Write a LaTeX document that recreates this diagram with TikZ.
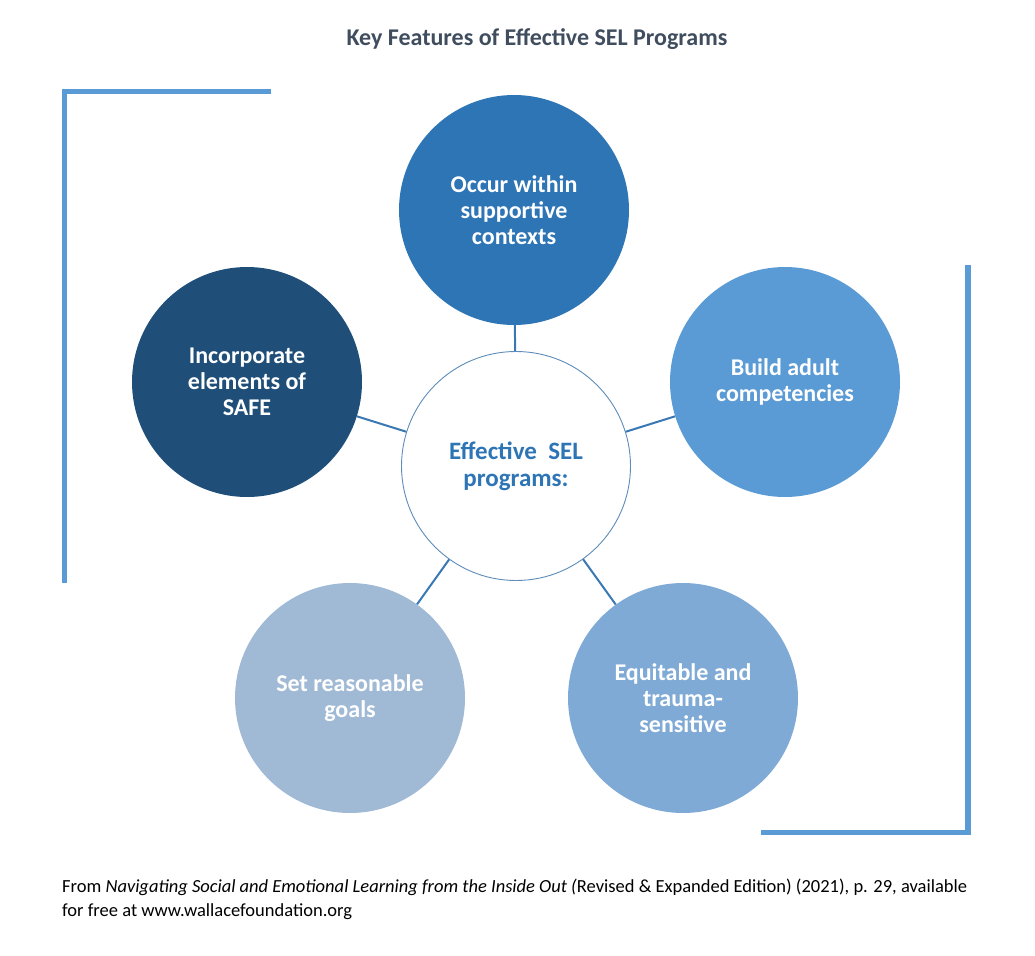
\documentclass[tikz,border=0pt]{standalone}
\usepackage{fontspec}
\setmainfont{Carlito}
\usetikzlibrary{calc}
\tikzset{%
  feature/.style={circle,minimum size=230pt,inner sep=0pt,fill=#1,text=white,
    align=center,font=\bfseries\fontsize{24}{26}\selectfont},
  feature/.default=c0,
  link/.style={draw=cl,line width=2pt},
  frame/.style={draw=cf,line width=5.5pt,line join=miter}
}
\definecolor{c0}{HTML}{2E75B6}
\definecolor{c1}{HTML}{1F4E79}
\definecolor{c2}{HTML}{5B9BD5}
\definecolor{c3}{HTML}{7FAAD6}
\definecolor{c4}{HTML}{A0BAD6}
\definecolor{cl}{HTML}{3A78B4}
\definecolor{cf}{HTML}{5B9BD5}
\definecolor{ct}{HTML}{3F4D5E}
\definecolor{cc}{HTML}{5E8DBA}

\begin{document}
\begin{tikzpicture}[x=1pt,y=-1pt]
  \useasboundingbox (0,0) rectangle (1035,955);
  \node[font=\bfseries\fontsize{24}{28}\selectfont,text=ct] (title) at (537,39) {Key Features of Effective SEL Programs};
  % corner frames
  \draw[frame] (271,91.5) -- (64.5,91.5) -- (64.5,583);
  \draw[frame] (968,265) -- (968,832.5) -- (761,832.5);
  % centre and the five features
  \node[circle,minimum size=229pt,inner sep=0pt,draw=cc,line width=0.9pt,fill=white,
    align=center,text=c0,font=\bfseries\fontsize{25}{27}\selectfont] (hub) at (516,466) {Effective~~SEL\\programs:};
  \node[feature=c0] (f0) at (514,210) {Occur within\\supportive\\contexts};
  \node[feature=c2] (f1) at (785,382) {Build adult\\competencies};
  \node[feature=c3] (f2) at (683,698) {Equitable and\\trauma-\\sensitive};
  \node[feature=c4] (f3) at (350,698) {Set reasonable\\goals};
  \node[feature=c1] (f4) at (247,382) {Incorporate\\elements of\\SAFE};
  \foreach \f in {f0,f1,f2,f3,f4}
    \draw[link] (hub) -- (\f);
  %%%
  \node[anchor=north west,align=left,inner sep=0pt,
    font=\fontsize{18.5}{24}\selectfont,text=black] (src) at (62,879)
    {From \textit{Navigating Social and Emotional Learning from the Inside Out (}Revised \& Expanded Edition) (2021), p. 29, available\\for free at www.wallacefoundation.org};
\end{tikzpicture}
\end{document}
